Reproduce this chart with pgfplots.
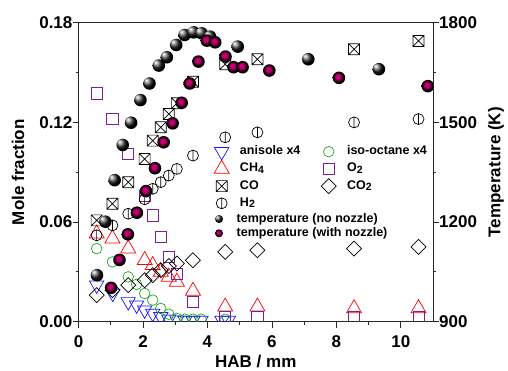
\documentclass[border=0pt]{standalone}
\usepackage{fontspec}
\setmainfont{Liberation Sans}
\usepackage{pgfplots}
\pgfplotsset{compat=1.18}
\definecolor{cblue}{RGB}{20,20,255}
\definecolor{cgreen}{RGB}{30,165,30}
\definecolor{cred}{RGB}{255,0,0}
\definecolor{cpurple}{RGB}{120,30,150}
\definecolor{mag}{RGB}{200,0,115}
\definecolor{axcol}{RGB}{40,40,40}
\newcommand\sub[1]{\raisebox{-1.2pt}{\fontsize{10.5}{12}\selectfont #1}}
\pgfdeclareradialshading{gball}{\pgfqpoint{-14bp}{14bp}}{color(0bp)=(white); color(5bp)=(white!80!black); color(17bp)=(black!85); color(24bp)=(black); color(50bp)=(black)}
\pgfdeclareradialshading{mball}{\pgfqpoint{-5bp}{6bp}}{color(0bp)=(mag); color(9bp)=(mag); color(20bp)=(black); color(50bp)=(black)}
\pgfdeclareplotmark{gball}{\pgfpathcircle{\pgfpointorigin}{\pgfplotmarksize}\pgfshadepath{gball}{0}\pgfusepath{discard}}
\pgfdeclareplotmark{mball}{\pgfpathcircle{\pgfpointorigin}{\pgfplotmarksize}\pgfshadepath{mball}{0}\pgfusepath{discard}}
\pgfdeclareplotmark{boxx}{%
  \pgfpathrectangle{\pgfqpoint{-\pgfplotmarksize}{-\pgfplotmarksize}}{\pgfqpoint{2\pgfplotmarksize}{2\pgfplotmarksize}}%
  \pgfpathmoveto{\pgfqpoint{-\pgfplotmarksize}{-\pgfplotmarksize}}\pgfpathlineto{\pgfqpoint{\pgfplotmarksize}{\pgfplotmarksize}}%
  \pgfpathmoveto{\pgfqpoint{-\pgfplotmarksize}{\pgfplotmarksize}}\pgfpathlineto{\pgfqpoint{\pgfplotmarksize}{-\pgfplotmarksize}}%
  \pgfusepathqstroke}
\pgfdeclareplotmark{circbar}{%
  \pgfpathcircle{\pgfpointorigin}{\pgfplotmarksize}%
  \pgfpathmoveto{\pgfqpoint{0pt}{-\pgfplotmarksize}}\pgfpathlineto{\pgfqpoint{0pt}{\pgfplotmarksize}}%
  \pgfusepathqstroke}
\pgfdeclareplotmark{rdiam}{%
  \pgfpathmoveto{\pgfqpoint{0pt}{\pgfplotmarksize}}%
  \pgfpathlineto{\pgfqpoint{\pgfplotmarksize}{0pt}}%
  \pgfpathlineto{\pgfqpoint{0pt}{-\pgfplotmarksize}}%
  \pgfpathlineto{\pgfqpoint{-\pgfplotmarksize}{0pt}}%
  \pgfpathclose\pgfusepathqstroke}
\pgfplotsset{
  legimgA/.style={legend image code/.code={%
    \path[draw=none,fill=none] (-20.3pt,-3pt) rectangle (10.3pt,3pt);
    \begin{pgfinterruptboundingbox}\draw[##1] plot coordinates {(0pt,0pt)};\end{pgfinterruptboundingbox}}},
  legimgB/.style={legend image code/.code={%
    \path[draw=none,fill=none] (-8pt,-3pt) rectangle (8pt,3pt);
    \begin{pgfinterruptboundingbox}\draw[##1,mark size=4pt] plot coordinates {(0pt,0pt)};\end{pgfinterruptboundingbox}}},
  sp/.style={only marks, line width=0.7pt, legimgA},
  tp/.style={only marks, legimgB},
  common/.style={
    scale only axis, width=354.4pt, height=299pt,
    at={(0pt,0pt)}, anchor=south west,
    xmin=0, xmax=11,
    clip marker paths=true,
    tick align=outside,
    major tick length=6pt, minor tick length=3pt,
    every tick/.style={axcol, line width=0.8pt},
    axis line style={axcol, line width=0.8pt},
    /pgf/number format/assume math mode=true,
    /pgf/number format/1000 sep={},
    tick label style={font=\fontsize{17}{20}\selectfont\bfseries},
    label style={font=\fontsize{17}{20}\selectfont\bfseries},
    legend cell align=left,
  },
}
\begin{document}
\begin{tikzpicture}
\begin{axis}[common,
  ymin=0, ymax=0.18,
  xtick={0,2,4,6,8,10}, minor x tick num=1,
  ytick={0,0.06,0.12,0.18}, minor y tick num=1,
  tick pos=left,
  scaled y ticks=false,
  yticklabel style={/pgf/number format/fixed, /pgf/number format/fixed zerofill, /pgf/number format/precision=2, inner sep=0pt, anchor=east},
  xticklabel style={inner sep=0pt, anchor=north, yshift=-8pt},
  xlabel={HAB / mm},
  xlabel style={at={(axis description cs:0.5,-0.153)}, anchor=base},
  ylabel={Mole fraction},
  ylabel style={at={(axis description cs:-0.171,0.5)}, anchor=center},
  legend columns=2,
  legend style={at={(axis description cs:0.3465,0.5886)}, anchor=north west,
    draw=none, fill=none, inner sep=0pt, outer sep=0pt,
    column sep=8pt, row sep=5.2pt,
    font=\fontsize{12.5}{14}\selectfont\bfseries,
    nodes={inner sep=0pt, text height=9pt, text depth=3pt}},
]
% anisole x4
\addplot[sp, cblue, mark=triangle, mark size=8.3pt, mark options={rotate=180}] coordinates {
(0.56,0.022) (1.06,0.017) (1.54,0.012) (1.80,0.010) (2.05,0.007) (2.30,0.005)
(2.55,0.003) (2.80,0.0015) (3.05,0.001) (3.30,0.0008) (3.55,0.0008) (3.80,0.0008)
(4.45,0.0008) (4.65,0.0008)};
\addlegendentry{anisole x4}
% iso-octane x4
\addplot[sp, cgreen, mark=o, mark size=5.3pt] coordinates {
(0.56,0.044) (1.05,0.036) (1.54,0.027) (1.80,0.0225) (2.05,0.017) (2.30,0.013)
(2.55,0.008) (2.80,0.0045) (3.05,0.002) (3.30,0.0015) (3.55,0.0015) (3.80,0.0015)
(4.55,0.0015)};
\addlegendentry{iso-octane x4}
% CH4
\addplot[sp, cred, mark=triangle, mark size=8.7pt] coordinates {
(0.56,0.053) (1.05,0.050) (1.54,0.044) (2.05,0.037) (2.30,0.034) (2.55,0.030)
(2.80,0.027) (3.05,0.024) (3.55,0.0185) (4.55,0.009) (5.55,0.009) (8.55,0.008)
(10.55,0.008)};
\addlegendentry{CH\sub{4}}
% O2
\addplot[sp, cpurple, mark=square, mark size=5.6pt] coordinates {
(0.56,0.1375) (1.05,0.122) (1.54,0.101) (2.05,0.076) (2.30,0.064) (2.55,0.051)
(2.80,0.039) (3.05,0.029) (3.55,0.012) (4.55,0.003) (5.55,0.003) (8.55,0.003)
(10.55,0.003)};
\addlegendentry{O\sub{2}}
% CO
\addplot[sp, black, mark=boxx, mark size=5.5pt] coordinates {
(0.56,0.061) (1.05,0.071) (1.54,0.084) (2.05,0.098) (2.30,0.109) (2.55,0.117)
(2.80,0.125) (3.05,0.1315) (3.55,0.1445) (4.55,0.155) (5.55,0.158) (8.55,0.164)
(10.55,0.169)};
\addlegendentry{CO}
% CO2
\addplot[sp, black, mark=rdiam, mark size=7.5pt] coordinates {
(0.56,0.016) (1.05,0.019) (1.54,0.022) (2.05,0.025) (2.30,0.028) (2.55,0.031)
(2.80,0.0335) (3.05,0.035) (3.55,0.037) (4.55,0.042) (5.55,0.043) (8.55,0.044)
(10.55,0.045)};
\addlegendentry{CO\sub{2}}
% H2
\addplot[sp, black, mark=circbar, mark size=5.5pt] coordinates {
(0.56,0.052) (1.05,0.058) (1.54,0.065) (2.05,0.0737) (2.30,0.080) (2.55,0.084)
(2.80,0.088) (3.05,0.092) (3.55,0.100) (4.55,0.111) (5.55,0.114) (8.55,0.120)
(10.55,0.122)};
\addlegendentry{H\sub{2}}
\end{axis}
\begin{axis}[common,
  ymin=900, ymax=1800,
  hide x axis,
  axis y line*=right,
  ytick={900,1200,1500,1800}, minor y tick num=1,
  scaled y ticks=false,
  yticklabel style={inner sep=0pt, anchor=west},
  ylabel={Temperature (K)},
  ylabel style={at={(axis description cs:1.178,0.5)}, anchor=center},
  legend style={at={(axis description cs:0.3736,0.3635)}, anchor=north west,
    draw=none, fill=none, inner sep=0pt, outer sep=0pt,
    column sep=9.7pt, row sep=2.3pt,
    font=\fontsize{12.5}{14}\selectfont\bfseries,
    nodes={inner sep=0pt, text height=9pt, text depth=3pt}},
]
\addplot[tp, mark=gball, mark size=6.3pt] coordinates {
(0.57,1040) (0.83,1201) (1.12,1326) (1.37,1432) (1.63,1499) (1.92,1567) (2.20,1617)
(2.49,1671) (2.74,1696) (3.03,1733) (3.29,1763) (3.57,1771) (3.82,1768) (4.08,1758)
(4.94,1728) (7.13,1690) (9.32,1660)};
\addlegendentry{temperature (no nozzle)}
\addplot[tp, mark=mball, mark size=6.3pt] coordinates {
(1.01,1002) (1.27,1086) (1.53,1163) (1.81,1228) (2.09,1293) (2.37,1362) (2.64,1440)
(2.92,1497) (3.20,1559) (3.45,1617) (3.72,1683) (3.98,1746) (4.24,1741) (4.56,1698)
(4.81,1666) (5.09,1666) (5.92,1656) (8.08,1634) (10.84,1609)};
\addlegendentry{temperature (with nozzle)}
\end{axis}
\pgfresetboundingbox
\path[use as bounding box] (-78.6pt,-49.3pt) rectangle (429.4pt,321.7pt);
\end{tikzpicture}
\end{document}
